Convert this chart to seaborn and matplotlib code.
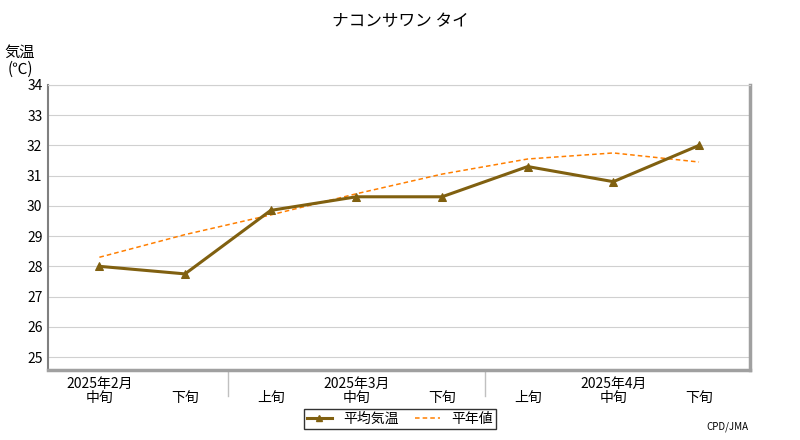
import numpy as np
import pandas as pd
import seaborn as sns
import matplotlib.pyplot as plt
from matplotlib.lines import Line2D

plt.rcParams['font.family'] = 'Noto Sans CJK JP'

# Data
periods = ['中旬', '下旬', '上旬', '中旬', '下旬', '上旬', '中旬', '下旬']
months = ['2025年2月', '2025年3月', '2025年4月']
month_pos = [0, 3, 6]
mean_temp = [28.0, 27.75, 29.85, 30.3, 30.3, 31.3, 30.8, 32.0]
normal_temp = [28.3, 29.05, 29.7, 30.4, 31.05, 31.55, 31.75, 31.45]

df = pd.DataFrame({'x': range(len(periods)), 'mean': mean_temp, 'normal': normal_temp})

fig = plt.figure(figsize=(8, 4.4), dpi=100)
ax = fig.add_axes([0.06, 0.159, 0.878, 0.648])

sns.lineplot(data=df, x='x', y='normal', ax=ax, color='#ff7f00', lw=1.1,
             linestyle=(0, (3, 2)), zorder=2)
sns.lineplot(data=df, x='x', y='mean', ax=ax, color='#806010', lw=2.2,
             marker='^', markersize=6, markeredgecolor='#806010', zorder=3)

ax.set_xlim(-0.6, 7.6)
ax.set_ylim(24.57, 34)
ax.set_yticks(range(25, 35))
ax.tick_params(axis='y', length=0, labelsize=10, pad=4)
ax.set_xticks([])
ax.set_xlabel('')
ax.set_ylabel('')
ax.grid(axis='y', color='#d0d0d0', lw=0.8)
ax.set_axisbelow(True)
ax.spines['top'].set_color('#d0d0d0')
ax.spines['left'].set_color('#808080')
ax.spines['left'].set_linewidth(1.5)
ax.spines['right'].set_color('#a0a0a0')
ax.spines['right'].set_linewidth(2.5)
ax.spines['bottom'].set_color('#a0a0a0')
ax.spines['bottom'].set_linewidth(2.5)

tr = ax.get_xaxis_transform()
for i, p in enumerate(periods):
    ax.text(i, -0.097, p, transform=tr, ha='center', va='center', fontsize=10)
for m, pos in zip(months, month_pos):
    ax.text(pos, -0.05, m, transform=tr, ha='center', va='center', fontsize=10)
for xs in [1.5, 4.5]:
    ax.plot([xs, xs], [0, -0.09], transform=tr, color='#c0c0c0', lw=1, clip_on=False)

fig.text(0.5, 0.95, 'ナコンサワン タイ', ha='center', va='center', fontsize=12)
fig.text(0.025, 0.862, '気温\n(℃)', ha='center', va='center', fontsize=11, linespacing=0.95)
fig.text(0.936, 0.03, 'CPD/JMA', ha='right', va='center', fontsize=7)

handles = [Line2D([], [], color='#806010', lw=2.2, marker='^', markersize=5),
           Line2D([], [], color='#ff7f00', lw=1.1, linestyle=(0, (3, 2)))]
fig.legend(handles, ['平均気温', '平年値'], loc='center', bbox_to_anchor=(0.5, 0.048),
           ncol=2, fontsize=10, frameon=True, fancybox=False, edgecolor='black',
           handlelength=1.8, borderpad=0.2, columnspacing=1.2)

fig.savefig('out.png', dpi=100)
